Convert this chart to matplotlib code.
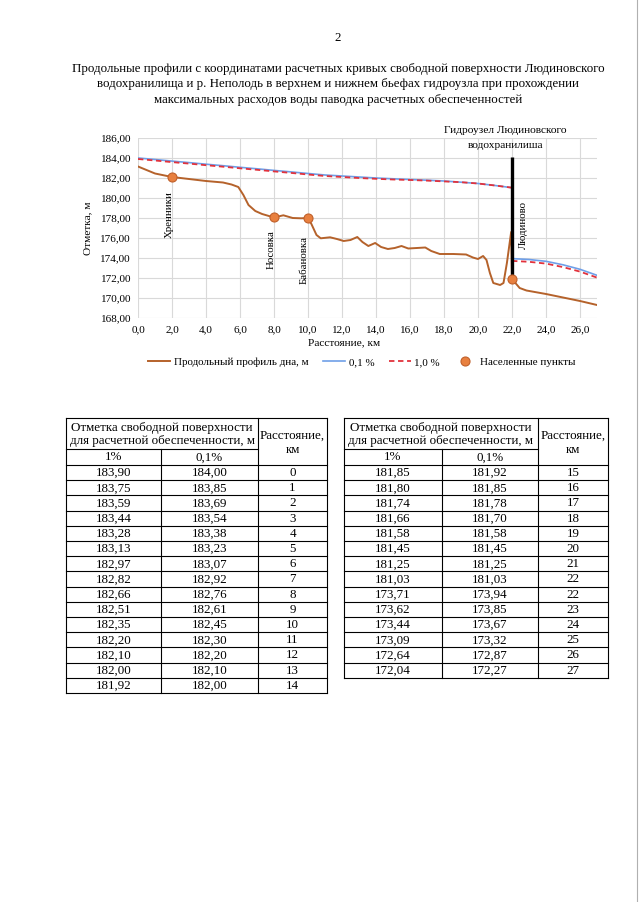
import matplotlib
matplotlib.use('Agg')
import matplotlib.pyplot as plt
from matplotlib.lines import Line2D
from matplotlib.ticker import FuncFormatter, MultipleLocator

plt.rcParams['font.family'] = ['Liberation Serif', 'DejaVu Serif']

# ---------------- data ----------------
dist_up = [0, 1, 2, 3, 4, 5, 6, 7, 8, 9, 10, 11, 12, 13, 14, 15, 16, 17, 18, 19, 20, 21, 22]
p1_up = [183.90, 183.75, 183.59, 183.44, 183.28, 183.13, 182.97, 182.82, 182.66, 182.51,
         182.35, 182.20, 182.10, 182.00, 181.92, 181.85, 181.80, 181.74, 181.66, 181.58,
         181.45, 181.25, 181.03]
p01_up = [184.00, 183.85, 183.69, 183.54, 183.38, 183.23, 183.07, 182.92, 182.76, 182.61,
          182.45, 182.30, 182.20, 182.10, 182.00, 181.92, 181.85, 181.78, 181.70, 181.58,
          181.45, 181.25, 181.03]
dist_down = [22, 23, 24, 25, 26, 27]
p1_down = [173.71, 173.62, 173.44, 173.09, 172.64, 172.04]
p01_down = [173.94, 173.85, 173.67, 173.32, 172.87, 172.27]

bed_x = [0, 1, 2, 3, 4, 5, 5.5, 5.9, 6.2, 6.5, 6.9, 7.3, 8.0, 8.55, 9.1, 9.6, 10.0, 10.2,
         10.5, 10.75, 11.3, 11.7, 12.1, 12.5, 12.9, 13.2, 13.55, 13.95, 14.3, 14.7, 15.1,
         15.5, 15.9, 16.4, 16.9, 17.25, 17.75, 18.55, 19.3, 19.7, 20.0, 20.3, 20.5, 20.7,
         20.9, 21.3, 21.5, 21.7, 21.95, 22.0, 22.45, 22.85, 24.0, 26.0, 27.0]
bed_y = [183.15, 182.45, 182.1, 181.9, 181.7, 181.55, 181.35, 181.1, 180.3, 179.3, 178.7,
         178.4, 178.05, 178.27, 178.0, 177.97, 178.0, 177.4, 176.3, 175.97, 176.07, 175.9,
         175.7, 175.8, 176.1, 175.6, 175.2, 175.5, 175.1, 174.9, 175.0, 175.2, 174.95,
         175.0, 175.05, 174.7, 174.4, 174.4, 174.35, 174.05, 173.9, 174.2, 173.8, 172.5,
         171.5, 171.3, 171.5, 173.5, 176.6, 171.9, 171.0, 170.75, 170.4, 169.7, 169.3]

town_names = ['Хренники', 'Носовка', 'Бабановка', 'Людиново']
town_x = [2.0, 8.0, 10.0, 22.0]
town_y = [182.1, 178.05, 178.0, 171.9]

dam_top = 184.05

legend_labels = ['Продольный профиль дна, м', '0,1 %', '1,0 %', 'Населенные пункты']

title_lines = [
    'Продольные профили с координатами расчетных кривых свободной поверхности Людиновского',
    'водохранилища и р. Неполодь в верхнем и нижнем бьефах гидроузла при прохождении',
    'максимальных расходов воды паводка расчетных обеспеченностей',
]
table_header1 = 'Отметка свободной поверхности\nдля расчетной обеспеченности, м'
table_header_dist = 'Расстояние,\nкм'
table_sub = ['1%', '0,1%']

# ---------------- figure ----------------
W, H = 640, 902
fig = plt.figure(figsize=(6.4, 9.02), dpi=100)
fig.patch.set_facecolor('white')


def fx(px):
    return px / W


def fy(py):
    return 1 - py / H


fig.text(fx(338), fy(38), '2', ha='center', va='center', fontsize=9.3)
for i, t in enumerate(title_lines):
    fig.text(fx(338), fy(69 + 15.5 * i), t, ha='center', va='center', fontsize=9.3)

# scan edge
fig.add_artist(Line2D([fx(637), fx(637)], [0, 1], color='#b0b0b0', lw=0.8))

# ---------------- chart ----------------
ax = fig.add_axes([fx(138), fy(318), fx(597) - fx(138), fy(138) - fy(318)])
ax.set_xlim(0, 27)
ax.set_ylim(168, 186)
ax.xaxis.set_major_locator(MultipleLocator(2))
ax.yaxis.set_major_locator(MultipleLocator(2))
ax.xaxis.set_major_formatter(FuncFormatter(lambda v, p: f'{v:.1f}'.replace('.', ',')))
ax.yaxis.set_major_formatter(FuncFormatter(lambda v, p: f'{v:.2f}'.replace('.', ',')))
ax.grid(True, color='#d9d9d9', lw=0.8)
ax.set_axisbelow(True)
for s in ax.spines.values():
    s.set_visible(False)
ax.tick_params(length=0, labelsize=8, pad=5)

bed_color = '#B5622B'
blue = '#6F9FE8'
red = '#E2323C'

l_bed, = ax.plot(bed_x, bed_y, color=bed_color, lw=1.4, zorder=3)
l_blue, = ax.plot(dist_up, p01_up, color=blue, lw=1.2, zorder=3)
ax.plot(dist_down, p01_down, color=blue, lw=1.2, zorder=3)
l_red, = ax.plot(dist_up, p1_up, color=red, lw=1.3, ls=(0, (3, 2)), zorder=4)
ax.plot(dist_down, p1_down, color=red, lw=1.3, ls=(0, (3, 2)), zorder=4)
ax.plot([22, 22], [dam_top, town_y[3]], color='black', lw=2.4, zorder=5,
        solid_capstyle='butt')
l_town, = ax.plot(town_x, town_y, 'o', ms=6.5, mfc='#E8803F', mec='#C0602A', mew=0.8,
                  ls='none', zorder=6)

label_pos = [(1.86, 178.3), (7.85, 174.8), (9.8, 173.75), (22.7, 177.25)]
for name, (lx, ly) in zip(town_names, label_pos):
    ax.text(lx, ly, name, rotation=90, ha='center', va='center', fontsize=7.8, zorder=7)

ax.text(21.6, 186.75, 'Гидроузел Людиновского', ha='center', va='center',
        fontsize=8.2, clip_on=False, zorder=7)
ax.text(21.6, 185.2, 'водохранилиша', ha='center', va='center',
        fontsize=8.2, clip_on=False, zorder=7)

ax.set_ylabel('Отметка, м', fontsize=8.2, labelpad=6)
fig.text(fx(344), fy(343), 'Расстояние, км', ha='center', va='center', fontsize=8.2)

fig.legend([l_bed, l_blue, l_red, l_town], legend_labels, ncol=4, loc='center',
           bbox_to_anchor=(fx(362), fy(362)), frameon=False, fontsize=7.9,
           handlelength=2.0, columnspacing=1.3, handletextpad=0.35)

# ---------------- tables ----------------
rows_all = []
for d, a, b in zip(dist_up, p1_up, p01_up):
    rows_all.append((a, b, d))
for d, a, b in zip(dist_down, p1_down, p01_down):
    rows_all.append((a, b, d))
left_rows = rows_all[:15]
right_rows = rows_all[15:]


def fmt(v):
    return f'{v:.2f}'.replace('.', ',')


def hline(x0, x1, y, lw=0.8):
    fig.add_artist(Line2D([fx(x0), fx(x1)], [fy(y), fy(y)], color='black', lw=lw))


def vline(x, y0, y1, lw=0.8):
    fig.add_artist(Line2D([fx(x), fx(x)], [fy(y0), fy(y1)], color='black', lw=lw))


TFS = 9.4


def draw_table(x0, xc1, xc2, x1, rows):
    top, h1, h2, rh = 418, 449, 465, 15.2
    bottom = h2 + len(rows) * rh
    hline(x0, x1, top)
    hline(x0, xc2, h1)
    for i in range(len(rows) + 1):
        hline(x0, x1, h2 + i * rh)
    vline(x0, top, bottom)
    vline(x1, top, bottom)
    vline(xc2, top, bottom)
    vline(xc1, h1, bottom)
    fig.text(fx((x0 + xc2) / 2), fy((top + h1) / 2 + 1), table_header1, ha='center',
             va='center', fontsize=TFS, linespacing=1.12)
    fig.text(fx((xc2 + x1) / 2), fy(443), table_header_dist, ha='center',
             va='center', fontsize=TFS, linespacing=1.2)
    fig.text(fx((x0 + xc1) / 2), fy((h1 + h2) / 2 + 0.5), table_sub[0], ha='center',
             va='center', fontsize=TFS)
    fig.text(fx((xc1 + xc2) / 2), fy((h1 + h2) / 2 + 0.5), table_sub[1], ha='center',
             va='center', fontsize=TFS)
    for i, (a, b, d) in enumerate(rows):
        yc = h2 + (i + 0.5) * rh + 0.5
        fig.text(fx((x0 + xc1) / 2), fy(yc), fmt(a), ha='center', va='center', fontsize=TFS)
        fig.text(fx((xc1 + xc2) / 2), fy(yc), fmt(b), ha='center', va='center', fontsize=TFS)
        fig.text(fx((xc2 + x1) / 2), fy(yc), str(d), ha='center', va='center', fontsize=TFS)


draw_table(66, 161, 258, 327, left_rows)
draw_table(344, 442, 538, 608, right_rows)

fig.savefig('out.png', dpi=100, facecolor='white')
